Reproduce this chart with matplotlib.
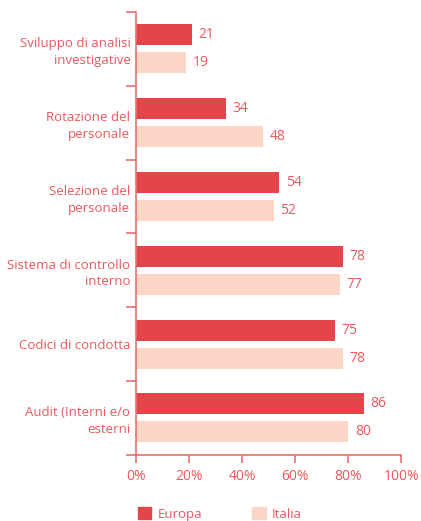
import numpy as np
import matplotlib
matplotlib.use('Agg')
import matplotlib.pyplot as plt
from matplotlib.patches import Patch

categories = [
    'Sviluppo di analisi\ninvestigative',
    'Rotazione del\npersonale',
    'Selezione del\npersonale',
    'Sistema di controllo\ninterno',
    'Codici di condotta',
    'Audit (Interni e/o\nesterni',
]
europa = [21, 34, 54, 78, 75, 86]
italia = [19, 48, 52, 77, 78, 80]
x_ticks = [0, 20, 40, 60, 80, 100]

RED = '#E4454A'
PINK = '#FBD6C6'
TXT = '#E8585E'
AX = '#EE6E70'

plt.rcParams['font.family'] = ['Open Sans', 'DejaVu Sans']

fig = plt.figure(figsize=(4.21, 5.21), dpi=100)
ax = fig.add_axes([0.323, 0.127, 0.63, 0.85])

n = len(categories)
y = np.arange(n)
h = 0.285
off = 0.19
b1 = ax.barh(y - off, europa, height=h, color=RED)
b2 = ax.barh(y + off, italia, height=h, color=PINK)

for bars, vals in ((b1, europa), (b2, italia)):
    for bar, v in zip(bars, vals):
        ax.text(v + 2.5, bar.get_y() + bar.get_height() / 2, str(v),
                va='center', ha='left', fontsize=10, color=TXT)

ax.set_ylim(n - 0.5, -0.5)
ax.set_xlim(0, 100)

# boundaries as major ticks, labels on minor ticks at centres
ax.set_yticks(np.arange(-0.5, n, 1.0))
ax.set_yticklabels([])
ax.set_yticks(y, minor=True)
ax.set_yticklabels(categories, minor=True, fontsize=9.5, color=TXT,
                   ha='right', linespacing=1.35)
ax.tick_params(axis='y', which='minor', length=0, pad=4)
ax.tick_params(axis='y', which='major', length=7, color=AX, width=1.2)

ax.set_xticks(x_ticks)
ax.set_xticklabels([f'{t}%' for t in x_ticks], fontsize=10, color=TXT)
ax.tick_params(axis='x', length=6, color=AX, width=1.2, pad=4)

for s in ('top', 'right'):
    ax.spines[s].set_visible(False)
for s in ('left', 'bottom'):
    ax.spines[s].set_color(AX)
    ax.spines[s].set_linewidth(1.2)

handles = [Patch(color=RED, label='Europa'), Patch(color=PINK, label='Italia')]
leg = fig.legend(handles=handles, loc='lower left', bbox_to_anchor=(0.299, -0.022),
                 ncol=2, frameon=False, fontsize=9.5, handlelength=1.0,
                 handleheight=1.0, columnspacing=3.8, handletextpad=0.5)
for t in leg.get_texts():
    t.set_color(TXT)

fig.savefig('out.png', dpi=100)
